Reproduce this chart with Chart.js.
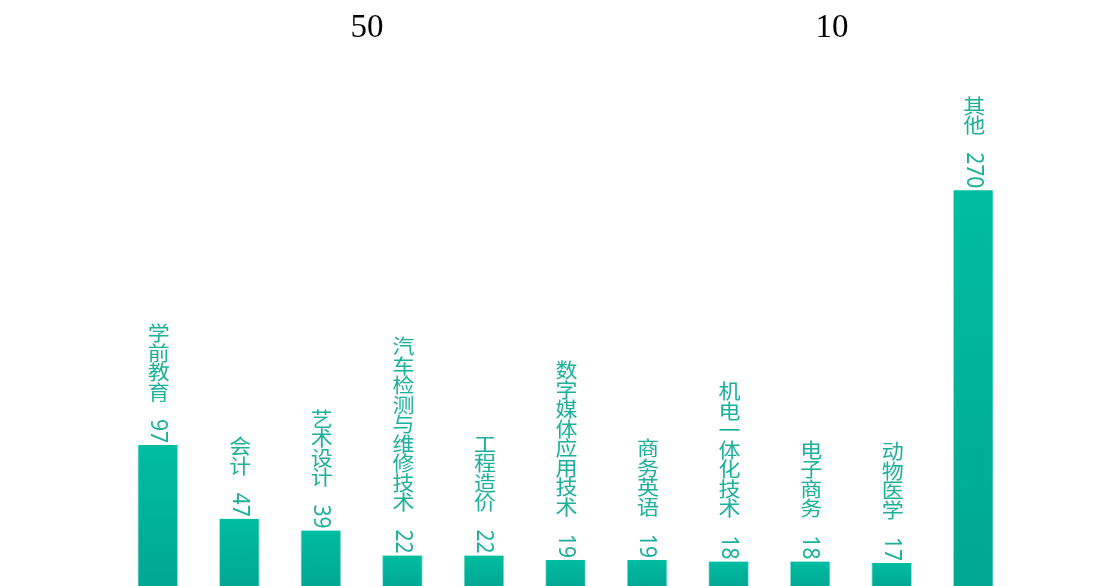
<!DOCTYPE html>
<html>
<head>
<meta charset="utf-8">
<script src="https://cdn.jsdelivr.net/npm/chart.js@4/dist/chart.umd.min.js"></script>
<style>
  html, body { margin: 0; padding: 0; background: #ffffff; overflow: hidden; }
  #wrap { position: relative; width: 1118px; height: 600px; }
  canvas { display: block; }
</style>
</head>
<body>
<div id="wrap"><canvas id="c" width="1118" height="600"></canvas></div>
<script>
const categories = ['学前教育', '会计', '艺术设计', '汽车检测与维修技术', '工程造价', '数字媒体应用技术', '商务英语', '机电一体化技术', '电子商务', '动物医学', '其他'];
const values = [97, 47, 39, 22, 22, 19, 19, 18, 18, 17, 270];
const headerTexts = ['50', '10'];

const headerX = [367, 832];
const labelColor = '#1cb09b';

const verticalLabels = {
  id: 'verticalLabels',
  afterDatasetsDraw(chart) {
    const ctx = chart.ctx;
    const meta = chart.getDatasetMeta(0);
    ctx.save();
    ctx.fillStyle = labelColor;
    meta.data.forEach((bar, i) => {
      const x = bar.x + 1;
      const top = bar.y;
      const valStr = String(values[i]);
      // value, rotated clockwise, ending just above the bar
      ctx.save();
      ctx.font = '21px "Noto Sans", "Noto Sans CJK SC", sans-serif';
      const vw = ctx.measureText(valStr).width;
      ctx.translate(x - 1, top - 2);
      ctx.rotate(Math.PI / 2);
      ctx.scale(1, 1.12);
      ctx.textAlign = 'right';
      ctx.textBaseline = 'middle';
      ctx.fillText(valStr, 0, 0);
      ctx.restore();
      // category name, upright characters stacked
      ctx.font = '20px "Noto Sans CJK SC", "Noto Sans", sans-serif';
      const chars = Array.from(categories[i]);
      const adv = 19.5;
      let bottom = top - 2 - vw - 18;
      ctx.textAlign = 'center';
      ctx.textBaseline = 'middle';
      for (let k = chars.length - 1; k >= 0; k--) {
        const cy = bottom - adv / 2;
        ctx.save();
        ctx.translate(x, cy + 1);
        ctx.scale(1.1, 1);
        ctx.fillText(chars[k], 0, 0);
        ctx.restore();
        bottom -= adv;
      }
    });
    ctx.restore();

    ctx.save();
    ctx.fillStyle = '#000000';
    ctx.font = '33px "Liberation Serif", "Times New Roman", serif';
    ctx.textAlign = 'center';
    ctx.textBaseline = 'alphabetic';
    headerTexts.forEach((t, i) => ctx.fillText(t, headerX[i], 37));
    ctx.restore();
  }
};

function barGradient(context) {
  const chart = context.chart;
  const area = chart.chartArea;
  const yScale = chart.scales && chart.scales.y;
  if (!area || !yScale || context.raw === undefined) return '#00b49c';
  const top = yScale.getPixelForValue(context.raw);
  const bottom = yScale.getPixelForValue(0);
  const g = chart.ctx.createLinearGradient(0, top, 0, bottom);
  g.addColorStop(0, '#00bda1');
  g.addColorStop(1, '#00a793');
  return g;
}

new Chart(document.getElementById('c'), {
  type: 'bar',
  data: {
    labels: categories,
    datasets: [{
      data: values,
      backgroundColor: barGradient,
      borderColor: 'rgba(150,225,210,0.9)',
      borderWidth: { left: 1, right: 1, top: 0, bottom: 0 },
      borderSkipped: false,
      barThickness: 40
    }]
  },
  options: {
    responsive: false,
    animation: false,
    layout: { padding: { left: 117, right: 104, top: 146, bottom: 12 } },
    plugins: { legend: { display: false }, tooltip: { enabled: false }, title: { display: false } },
    scales: {
      x: { display: false },
      y: { display: false, min: 0, max: 300 }
    }
  },
  plugins: [verticalLabels]
});
</script>
</body>
</html>
